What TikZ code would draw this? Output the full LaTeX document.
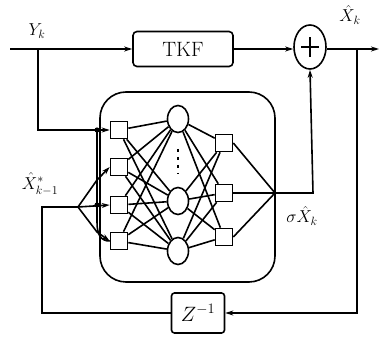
\documentclass[tikz,border=0pt]{standalone}
\usepackage{amsmath}
\usetikzlibrary{arrows.meta,positioning,shapes.geometric}
\begin{document}
\begin{tikzpicture}[x=1pt, y=-1pt,
        >={Stealth[length=8pt,width=5pt]},
        line width=1.6pt,
        blk/.style={draw, rounded corners=4pt, inner sep=0pt},
        unit/.style={draw, minimum size=17pt, inner sep=0pt},
        hid/.style={draw, ellipse, minimum width=21pt, minimum height=27pt, inner sep=0pt},
        lab/.style={inner sep=0pt, font=\LARGE}
    ]
        \useasboundingbox (0,0) rectangle (381,339);
        % blocks
        \node[blk, minimum width=100pt, minimum height=35pt, font=\huge] (tkf) at (183,49) {TKF};
        \node[draw, ellipse, minimum width=32pt, minimum height=44pt, inner sep=0pt] (sum) at (310,47) {};
        \draw[line width=2.2pt] ([xshift=-9pt]sum.center) -- ([xshift=9pt]sum.center)
                                ([yshift=-10pt]sum.center) -- ([yshift=10pt]sum.center);
        \node[blk, rounded corners=3pt, minimum width=53pt, minimum height=40pt, font=\huge] (zinv) at (198,313) {$Z^{-1}$};
        \node[draw, rounded corners=26pt, minimum width=175pt, minimum height=190pt] (net) at (187.5,187) {};
        % network units
        \node[unit] (in1) at (119,130) {};
        \node[unit] (in2) at (119,167) {};
        \node[unit] (in3) at (119,205) {};
        \node[unit] (in4) at (119,241) {};
        \node[hid] (h1) at (178,119) {};
        \node[hid] (h2) at (178,201) {};
        \node[hid] (h3) at (178,251) {};
        \node[unit] (o1) at (224,143) {};
        \node[unit] (o2) at (224,193) {};
        \node[unit] (o3) at (224,237) {};
        \draw[line width=2.4pt, dash pattern=on 3pt off 5pt] (178,149) -- (178,174);
        % coordinates
        \coordinate (yin) at (10,49);
        \coordinate (ysplit) at (38,49);
        \coordinate (ydown) at (38,130);
        \coordinate (bus) at (97,130);
        \coordinate (busend) at (97,222);
        \coordinate (xsplit) at (357,49);
        \coordinate (xout) at (379,49);
        \coordinate (fbr) at (357,313);
        \coordinate (fbl) at (42,313);
        \coordinate (xs) at (42,207);
        \coordinate (fan) at (78,207);
        \coordinate (join) at (275,193);
        \coordinate (sig) at (313,193);
        % weights
        \foreach \i in {1,...,4}
            \foreach \j in {1,2,3}
                \draw (in\i) -- (h\j);
        \foreach \j in {1,2,3}
            \foreach \k in {1,2,3}
                \draw (h\j) -- (o\k);
        \foreach \k in {1,2,3}
            \draw (o\k.east) -- (join);
        % signal paths
        \draw[->] (yin) -- (tkf.west);
        \draw[->] (tkf.east) -- (tkf.east -| sum.west);
        \draw[->] (sum.east |- xout) -- (xout);
        \draw[->] (ysplit) -- (ydown) -- (in1.west);
        \draw (bus) -- (busend) .. controls (97,235) and (101,241) .. (in4.west);
        \fill (bus) circle (2.6pt) (97,205) circle (2.6pt);
        \draw[->] (join) -- (sig) -- (sum.south);
        \draw[->] (xsplit) -- (fbr) -- (zinv.east);
        \draw (zinv.west) -- (fbl) -- (xs) -- (fan);
        \draw[->] (fan) -- (97,180) -- (in2.west);
        \draw[->] (fan) -- (in3.west);
        \draw[->] (fan) -- (97,232) -- (in4.west);
        % labels
        \node[lab] (ylab) at (37,31) {$Y_k$};
        \node[lab] (xlab) at (350,15) {$\hat{X}_k$};
        \node[lab] (xprev) at (40,184) {$\hat{X}^{*}_{k-1}$};
        \node[lab] (slab) at (302,216) {$\sigma\hat{X}_k$};
    \end{tikzpicture}
\end{document}
